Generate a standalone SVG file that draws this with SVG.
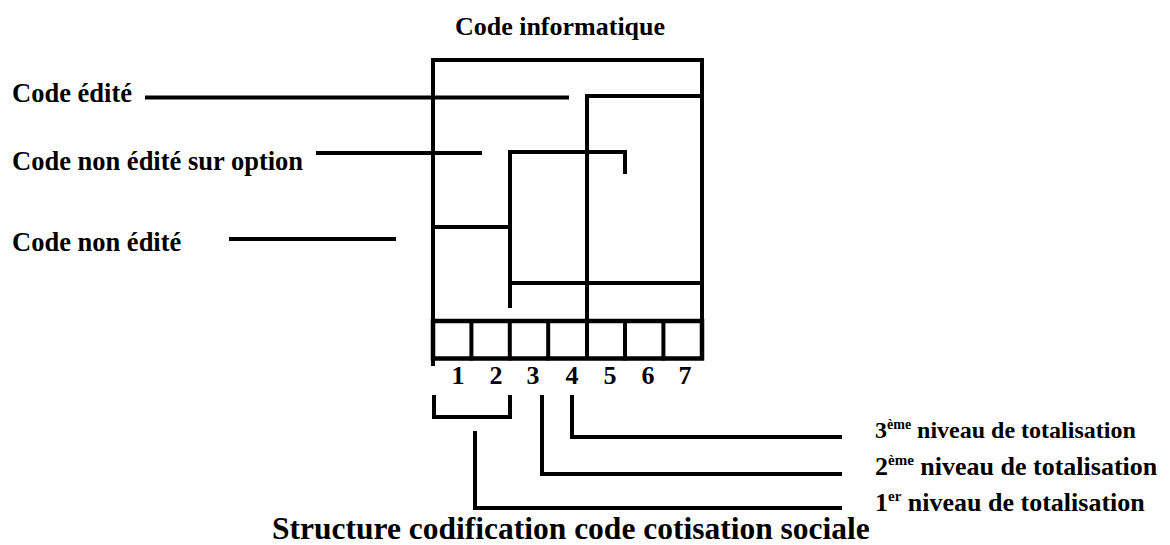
<svg xmlns="http://www.w3.org/2000/svg" width="1170" height="545" viewBox="0 0 1170 545">
<style>
.t{font-family:"Liberation Serif","Times New Roman",serif;font-weight:bold;fill:#000}
.lbl{font-size:26px}
.side{font-size:26.5px}
.ln{fill:none;stroke:#000;stroke-width:4;stroke-linecap:square;stroke-linejoin:miter}
.box{fill:none;stroke:#000;stroke-width:4.5}
</style>
<rect width="1170" height="545" fill="#fff"/>

<g id="title-top"><text class="t lbl" x="560" y="35" text-anchor="middle">Code informatique</text></g>
<g id="label-edite"><text class="t side" x="12" y="102">Code édité</text></g>
<g id="label-option"><text class="t side" x="12" y="170">Code non édité sur option</text></g>
<g id="label-non-edite"><text class="t side" x="12" y="251">Code non édité</text></g>

<g id="code-cells">
<rect class="box" x="433" y="321" width="269" height="37.5"/>
<path class="ln" d="M471.4 321V358.5M509.8 321V358.5M548.2 321V358.5M625 321V358.5M663.4 321V358.5"/>
</g>
<g id="digits" class="t lbl" text-anchor="middle">
<text x="458" y="384">1</text>
<text x="496" y="384">2</text>
<text x="533" y="384">3</text>
<text x="572" y="384">4</text>
<text x="610" y="384">5</text>
<text x="648" y="384">6</text>
<text x="685" y="384">7</text>
</g>

<g id="level3"><text class="t" font-size="24" x="875" y="437.5">3<tspan font-size="14" dy="-9">ème</tspan><tspan dy="9"> niveau de totalisation</tspan></text></g>
<g id="level2"><text class="t lbl" x="875" y="475">2<tspan font-size="15" dy="-10">ème</tspan><tspan dy="10"> niveau de totalisation</tspan></text></g>
<g id="level1"><text class="t lbl" x="875" y="511">1<tspan font-size="15" dy="-10">er</tspan><tspan dy="10"> niveau de totalisation</tspan></text></g>

<g id="caption"><text class="t" font-size="31.5" x="272" y="538.5">Structure codification code cotisation sociale</text></g>

<g id="connectors">
<path class="ln" d="M433 364V60H702V358"/>
<path class="ln" d="M147 97.5H567"/>
<path class="ln" d="M318 153H480"/>
<path class="ln" d="M231 239H394"/>
<path class="ln" d="M587 358V96H702"/>
<path class="ln" d="M510 306V152H625V172"/>
<path class="ln" d="M433 227H510"/>
<path class="ln" d="M510 283H702"/>
<path class="ln" d="M434 397V417H510V397"/>
<path class="ln" d="M475 433V508H840"/>
<path class="ln" d="M542 397V474H840"/>
<path class="ln" d="M572 397V437H840"/>
</g>
</svg>
